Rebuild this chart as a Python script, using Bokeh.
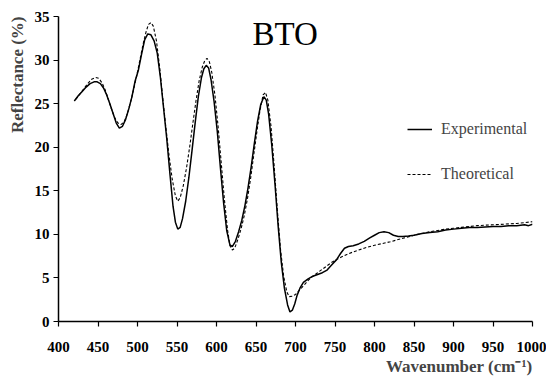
from bokeh.plotting import figure
from bokeh.models import Range1d, Title, Label, Legend, LegendItem, FixedTicker
from bokeh.embed import file_html
from bokeh.resources import INLINE

# Experimental reflectance (%)
exp_x = [420, 425, 430, 435, 440, 445, 449, 453, 457, 461, 465, 469, 473, 477, 481,
         485, 489, 493, 497, 501, 505, 509, 513, 517, 521, 525, 529, 533, 537, 541,
         545, 548, 551, 554, 557, 561, 565, 569, 573, 577, 581, 584, 587, 590, 593,
         597, 601, 605, 609, 613, 617, 620, 624, 628, 632, 636, 640, 644, 648, 652,
         656, 660, 663, 666, 670, 674, 678, 682, 686, 690, 693, 696, 699, 702, 706,
         710, 716, 722, 728, 734, 740, 746, 752, 757, 762, 767, 773, 780, 787, 794,
         800, 806, 812, 818, 824, 830, 836, 843, 850, 860, 870, 880, 890, 900, 910,
         920, 930, 940, 950, 960, 970, 980, 990, 995, 1000]
exp_y = [25.3, 25.9, 26.4, 26.9, 27.3, 27.5, 27.5, 27.3, 26.8, 26.0, 25.0, 23.9, 22.8, 22.2, 22.4,
         23.2, 24.4, 25.8, 27.6, 28.8, 30.6, 32.3, 33.0, 32.9, 32.2, 30.8, 28.0, 24.5, 21.0, 17.0,
         13.2, 11.4, 10.6, 10.8, 11.8, 13.8, 16.5, 19.6, 22.8, 25.8, 28.0, 29.0, 29.4, 29.1, 27.8,
         25.2, 21.8, 17.6, 13.6, 10.4, 8.8, 8.6, 9.2, 10.3, 11.6, 13.3, 15.4, 17.8, 20.5, 23.0,
         24.9, 25.8, 25.4, 23.8, 20.2, 15.8, 11.0, 6.8, 3.8, 1.9, 1.1, 1.3, 2.0, 3.0, 3.9,
         4.5, 4.9, 5.2, 5.4, 5.6, 5.9, 6.5, 7.1, 7.8, 8.4, 8.6, 8.7, 8.9, 9.2, 9.6,
         9.9, 10.2, 10.3, 10.2, 9.9, 9.75, 9.75, 9.8, 9.9, 10.1, 10.2, 10.3, 10.5, 10.6, 10.7,
         10.8, 10.8, 10.85, 10.9, 10.9, 11.0, 11.0, 11.1, 11.0, 11.15]

# Theoretical reflectance (%)
theo_x = [422, 427, 432, 437, 442, 447, 451, 455, 459, 463, 467, 471, 475, 479, 483,
          487, 491, 495, 499, 503, 507, 511, 514, 517, 520, 524, 528, 532, 536, 540,
          544, 548, 551, 554, 558, 562, 566, 570, 574, 578, 582, 585, 588, 591, 594,
          598, 602, 606, 610, 614, 617, 620, 623, 627, 631, 635, 639, 643, 647, 651,
          655, 659, 662, 665, 669, 673, 677, 681, 685, 689, 692, 696, 700, 704, 708,
          712, 717, 722, 728, 734, 740, 746, 752, 758, 765, 772, 780, 790, 800, 810,
          820, 830, 840, 850, 860, 870, 880, 890, 900, 910, 920, 930, 940, 950, 960,
          970, 980, 990, 1000]
theo_y = [25.5, 26.1, 26.7, 27.3, 27.8, 28.0, 27.9, 27.4, 26.6, 25.5, 24.4, 23.4, 22.8, 22.6, 22.9,
          23.8, 25.1, 26.6, 28.2, 30.0, 31.8, 33.3, 34.1, 34.3, 33.9, 32.2, 29.2, 25.6, 22.2, 19.0,
          16.3, 14.4, 13.8, 14.2, 15.6, 17.6, 20.0, 22.7, 25.3, 27.6, 29.2, 29.9, 30.2, 29.8, 28.6,
          26.0, 22.4, 18.2, 14.0, 10.5, 8.7, 8.2, 8.4, 9.4, 10.6, 12.1, 14.0, 16.3, 19.0, 21.7,
          24.2, 26.0, 26.3, 25.4, 22.4, 17.8, 12.8, 8.3, 5.2, 3.4, 2.85, 2.9, 3.1, 3.5, 3.9,
          4.3, 4.8, 5.2, 5.6, 6.0, 6.4, 6.8, 7.1, 7.4, 7.7, 7.95, 8.2, 8.5, 8.75, 8.95,
          9.15, 9.4, 9.65, 9.9, 10.1, 10.3, 10.45, 10.6, 10.7, 10.8, 10.9, 11.0, 11.05, 11.1, 11.15,
          11.2, 11.25, 11.35, 11.45]

x_ticks = [400, 450, 500, 550, 600, 650, 700, 750, 800, 850, 900, 950, 1000]
y_ticks = [0, 5, 10, 15, 20, 25, 30, 35]

SERIF = "Liberation Serif"

p = figure(width=546, height=378, output_backend="svg", toolbar_location=None,
           x_range=Range1d(400, 1000), y_range=Range1d(0, 35),
           min_border_left=51, min_border_right=14, min_border_top=16, min_border_bottom=57)
p.grid.visible = False
p.outline_line_color = None
p.background_fill_color = "white"

for ax, ticks in ((p.xaxis, x_ticks), (p.yaxis, y_ticks)):
    ax.ticker = FixedTicker(ticks=ticks)
    ax.major_tick_out = 5
    ax.major_tick_in = 0
    ax.minor_tick_out = 0
    ax.minor_tick_in = 0
    ax.axis_line_width = 1.5
    ax.major_tick_line_width = 1.2
    ax.major_label_text_font = SERIF
    ax.major_label_text_font_style = "bold"
    ax.major_label_text_font_size = "15px"
    ax.major_label_text_color = "black"
    ax.axis_line_color = "black"
    ax.major_tick_line_color = "black"
p.xaxis.major_label_standoff = 15
p.yaxis.major_label_standoff = 4

r1 = p.line(exp_x, exp_y, line_color="black", line_width=1.5)
r2 = p.line(theo_x, theo_y, line_color="black", line_width=1.1, line_dash="3 2")

legend = Legend(items=[LegendItem(label="Experimental", renderers=[r1]),
                       LegendItem(label="Theoretical", renderers=[r2])],
                location=(349, 137), padding=0, margin=0, spacing=25,
                glyph_width=25, glyph_height=20, label_height=20, label_standoff=9,
                border_line_alpha=0, background_fill_alpha=0,
                label_text_font=SERIF, label_text_font_size="16px")
p.add_layout(legend, "center")

p.add_layout(Label(x=687, y=33.0, text="BTO", text_align="center",
                   text_baseline="middle", text_font=SERIF,
                   text_font_size="33px", text_color="black"))

ylab = Title(text="Reflectance (%)", align="right", text_font=SERIF,
             text_font_style="bold", text_font_size="17px")
p.add_layout(ylab, "left")
xlab = Title(text="Wavenumber (cm\u207b\u00b9)", align="right", text_font=SERIF,
             text_font_style="bold", text_font_size="17px", standoff=0)
p.add_layout(xlab, "below")

open("out.html", "w").write(file_html(p, INLINE))
